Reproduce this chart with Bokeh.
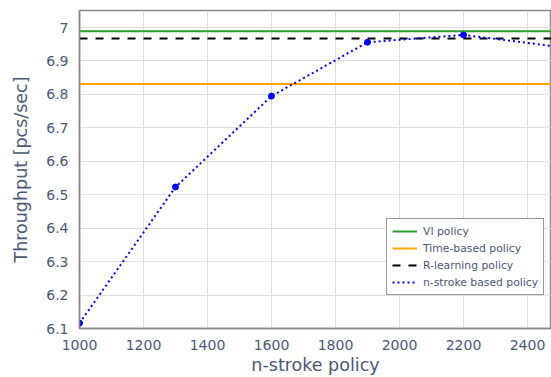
from bokeh.plotting import figure
from bokeh.models import Range1d, FixedTicker, CustomJSTickFormatter, Legend, LegendItem
from bokeh.embed import file_html
from bokeh.resources import INLINE

# data
n_stroke = [1000, 1300, 1600, 1900, 2200, 2500]
n_tput = [6.116, 6.523, 6.795, 6.956, 6.978, 6.942]
vi_value = 6.989
time_value = 6.831
rl_value = 6.967
x_ticks = [1000, 1200, 1400, 1600, 1800, 2000, 2200, 2400]
y_ticks = [6.1, 6.2, 6.3, 6.4, 6.5, 6.6, 6.7, 6.8, 6.9, 7.0]

FONT = "DejaVu Sans"
TXT = "#4a5878"

p = figure(width=551, height=377, output_backend="svg", toolbar_location=None,
           x_range=Range1d(1000, 2475), y_range=Range1d(6.1, 7.051),
           min_border_left=79, min_border_top=10, min_border_bottom=49, min_border_right=0)

ext = [n_stroke[0], n_stroke[-1]]
r_vi = p.line(ext, [vi_value] * 2, line_color="#2ca02c", line_width=2)
r_time = p.line(ext, [time_value] * 2, line_color="#ffa500", line_width=2)
r_rl = p.line(ext, [rl_value] * 2, line_color="black", line_width=2, line_dash="8 8")
r_ns = p.line(n_stroke, n_tput, line_color="blue", line_width=2, line_dash="2 3")
p.scatter(n_stroke, n_tput, size=6, color="blue")

p.xaxis.ticker = FixedTicker(ticks=x_ticks)
p.yaxis.ticker = FixedTicker(ticks=y_ticks)
p.yaxis.formatter = CustomJSTickFormatter(code="return tick.toFixed(1).replace(/\\.0$/, '');")

for ax in (p.xaxis, p.yaxis):
    ax.major_tick_line_color = None
    ax.minor_tick_line_color = None
    ax.axis_line_color = "#888888"
    ax.axis_line_width = 1.5
    ax.major_label_text_font = FONT
    ax.major_label_text_font_size = "14px"
    ax.major_label_text_color = TXT
    ax.axis_label_text_font = FONT
    ax.axis_label_text_font_size = "17.5px"
    ax.axis_label_text_font_style = "normal"
    ax.axis_label_text_color = TXT

p.xaxis.axis_label = "n-stroke policy"
p.yaxis.axis_label = "Throughput [pcs/sec]"
p.xaxis.major_label_standoff = 5
p.yaxis.major_label_standoff = 5
p.xaxis.axis_label_standoff = 2
p.yaxis.axis_label_standoff = 12

p.xgrid.grid_line_color = "#dddddd"
p.ygrid.grid_line_color = "#dddddd"
p.outline_line_color = "#888888"
p.outline_line_width = 1.5

legend = Legend(items=[
    LegendItem(label="VI policy", renderers=[r_vi]),
    LegendItem(label="Time-based policy", renderers=[r_time]),
    LegendItem(label="R-learning policy", renderers=[r_rl]),
    LegendItem(label="n-stroke based policy", renderers=[r_ns]),
], location=(307, 33))
legend.label_text_font = FONT
legend.label_text_font_size = "10.8px"
legend.label_text_color = TXT
legend.glyph_height = 14
legend.label_height = 14
legend.glyph_width = 25
legend.label_width = 115
legend.spacing = 3
legend.padding = 5
legend.label_standoff = 6
legend.border_line_color = "#333333"
legend.border_line_width = 1
legend.margin = 0
legend.background_fill_alpha = 1
p.add_layout(legend, "center")

open("out.html", "w").write(file_html(p, INLINE))
